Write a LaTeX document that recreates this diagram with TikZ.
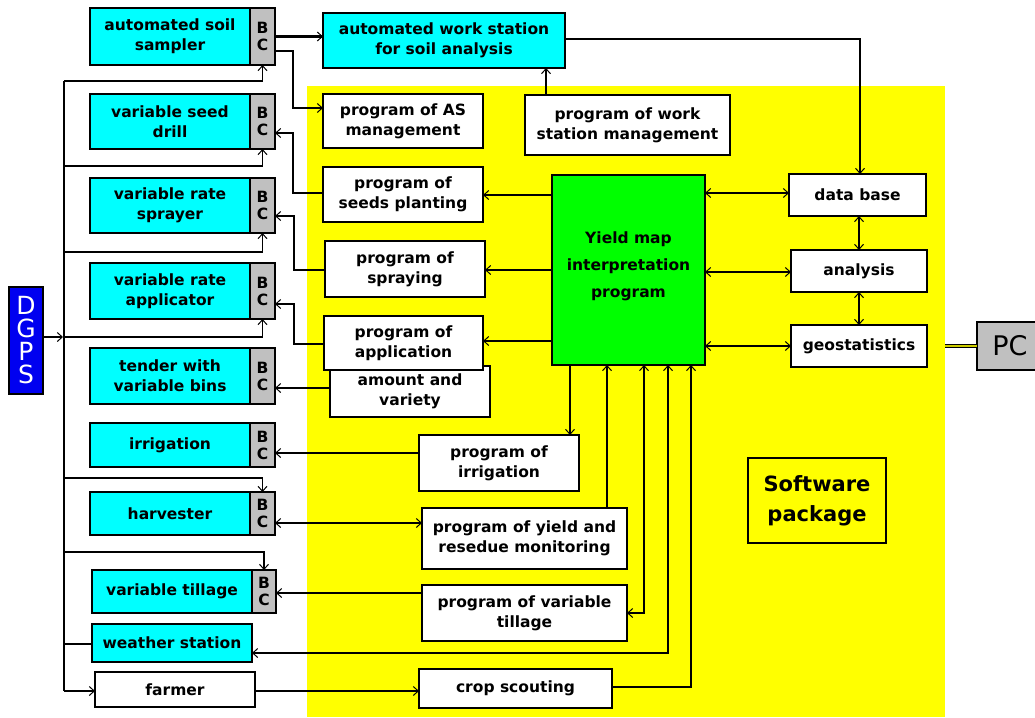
\documentclass[tikz,border=0pt]{standalone}
\usepackage{fontspec}
\setmainfont{DejaVu Sans}
\usetikzlibrary{arrows.meta,calc}
\definecolor{cyn}{RGB}{0,255,255}
\definecolor{ylw}{RGB}{255,255,0}
\definecolor{grn}{RGB}{0,255,0}
\definecolor{gry}{RGB}{192,192,192}
\definecolor{blu}{RGB}{0,0,240}
% \rbx[style]{name}{x1}{y1}{x2}{y2}{text}
\newcommand\rbx[7][]{%
  \pgfmathsetmacro\rbxcx{(#3+#5)/2}%
  \pgfmathsetmacro\rbxcy{(#4+#6)/2}%
  \pgfmathsetmacro\rbxw{#5-#3}%
  \pgfmathsetmacro\rbxh{#6-#4}%
  \node[#1, minimum width=\rbxw pt, minimum height=\rbxh pt] (#2) at (\rbxcx,\rbxcy) {#7};}
\begin{document}
\begin{tikzpicture}[x=1pt,y=-1pt,
  box/.style={draw, line width=2.8pt, inner sep=0pt, outer sep=0pt, align=center,
    font=\bfseries\fontsize{15.5}{20}\selectfont},
  dev/.style={box, fill=cyn},
  prog/.style={box, fill=white},
  bcbox/.style={box, fill=gry, font=\bfseries\fontsize{15.5}{17}\selectfont},
  tipA/.tip={Straight Barb[length=5pt,width=9pt,line width=1pt]},
  con/.style={line width=1.1pt, -tipA},
  dcon/.style={line width=1.1pt, tipA-tipA},
  link/.style={line width=1.1pt}]
\useasboundingbox[fill=white] (0,0) rectangle (1035,717);
\fill[ylw] (307,86) rectangle (945,717);

% devices
\rbx[dev]{sam}{90}{8}{250}{65}{automated soil\\sampler}
\rbx[bcbox]{samBC}{250}{8}{275}{65}{B\\C}
\rbx[dev]{seed}{90}{94}{250}{149}{variable seed\\drill}
\rbx[bcbox]{seedBC}{250}{94}{275}{149}{B\\C}
\rbx[dev]{spr}{90}{178}{250}{233}{variable rate\\sprayer}
\rbx[bcbox]{sprBC}{250}{178}{275}{233}{B\\C}
\rbx[dev]{app}{90}{263}{250}{319}{variable rate\\applicator}
\rbx[bcbox]{appBC}{250}{263}{275}{319}{B\\C}
\rbx[dev]{ten}{90}{348}{250}{404}{tender with\\variable bins}
\rbx[bcbox]{tenBC}{250}{348}{275}{404}{B\\C}
\rbx[dev]{irr}{90}{423}{250}{467}{irrigation}
\rbx[bcbox]{irrBC}{250}{423}{275}{467}{B\\C}
\rbx[dev]{har}{90}{492}{250}{535}{harvester}
\rbx[bcbox]{harBC}{250}{492}{275}{535}{B\\C}
\rbx[dev]{til}{92}{570}{252}{613}{variable tillage}
\rbx[bcbox]{tilBC}{252}{570}{276}{613}{B\\C}
\rbx[dev]{wea}{92}{624}{252}{662}{weather station}
\rbx[prog]{far}{95}{672}{255}{707}{farmer}

\rbx[box, fill=blu, text=white, font=\fontsize{25}{23}\selectfont]{dgps}{9}{287}{43}{394}{D\\G\\P\\S}

% top work station
\rbx[dev]{ws}{323}{13}{565}{68}{automated work station\\for soil analysis}

% programs
\rbx[prog]{as}{323}{94}{483}{148}{program of AS\\management}
\rbx[prog]{wsp}{525}{95}{730}{155}{program of work\\station management}
\rbx[prog]{sp}{323}{167}{483}{222}{program of\\seeds planting}
\rbx[prog]{spp}{325}{241}{485}{297}{program of\\spraying}
\rbx[prog]{amt}{330}{366}{490}{417}{amount and\\variety}
\rbx[prog]{apr}{324}{316}{483}{370}{program of\\application}
\rbx[prog]{irp}{419}{435}{579}{491}{program of\\irrigation}
\rbx[prog]{yrp}{422}{508}{627}{569}{program of yield and\\resedue monitoring}
\rbx[prog]{tlp}{422}{585}{627}{641}{program of variable\\tillage}
\rbx[prog]{crop}{419}{669}{612}{708}{crop scouting}
\rbx[box, fill=grn, font=\bfseries\fontsize{15.5}{27}\selectfont]{ym}{552}{175}{705}{365}{Yield map\\interpretation\\program\\[-17pt]}

\rbx[prog]{db}{789}{174}{926}{216}{data base}
\rbx[prog]{an}{791}{250}{927}{292}{analysis}
\rbx[prog]{geo}{791}{325}{927}{367}{geostatistics}
\rbx[box, fill=ylw, font=\bfseries\fontsize{21}{30}\selectfont]{sw}{748}{458}{886}{543}{Software\\package}
\rbx[box, fill=gry, font=\fontsize{27}{30}\selectfont]{pc}{977}{322}{1043}{370}{PC}

% connectors
\draw[line width=2.4pt, -{Straight Barb[length=5pt,width=9pt,line width=1pt]}]
  (samBC.east) -- (samBC.east -| ws.west);
\draw[con] (samBC.east |- 0,51) -- (293,51) |- (as.west |- 0,108);
\draw[con] (sp.west |- 0,193) -- (293,193) |- (seedBC.east |- 0,133);
\draw[con] (spp.west |- 0,270) -- (294,270) |- (sprBC.east |- 0,216);
\draw[con] (apr.west |- 0,344) -- (294,344) |- (appBC.east |- 0,304);
\draw[con] (amt.west |- 0,388) -- (tenBC.east |- 0,388);
\draw[con] (irp.west |- 0,453) -- (irrBC.east |- 0,453);
\draw[dcon] (yrp.west |- 0,523) -- (harBC.east |- 0,523);
\draw[con] (tlp.west |- 0,593) -- (tilBC.east |- 0,593);

\draw[con] (ym.west |- 0,195) -- (sp.east |- 0,195);
\draw[con] (ym.west |- 0,270) -- (spp.east |- 0,270);
\draw[con] (ym.west |- 0,341) -- (apr.east |- 0,341);

\draw[dcon] (ym.east |- 0,193) -- (db.west |- 0,193);
\draw[dcon] (ym.east |- 0,272) -- (an.west |- 0,272);
\draw[dcon] (ym.east |- 0,346) -- (geo.west |- 0,346);
\draw[dcon] (db.south -| 859,0) -- (an.north -| 859,0);
\draw[dcon] (an.south -| 859,0) -- (geo.north -| 859,0);

\draw[con] (ws.east |- 0,39) -| (db.north -| 860,0);
\draw[con] (wsp.north -| 546,0) -- (ws.south -| 546,0);
\draw[con] (ym.south -| 570,0) -- (irp.north -| 570,0);
\draw[con] (yrp.north -| 607,0) -- (ym.south -| 607,0);
\draw[dcon] (tlp.east |- 0,613) -| (ym.south -| 644,0);
\draw[dcon] (wea.east |- 0,653) -| (ym.south -| 668,0);
\draw[con] (crop.east |- 0,687) -| (ym.south -| 691,0);
\draw[con] (far.east |- 0,691) -- (crop.west |- 0,691);

\draw[line width=1pt, double=ylw!80!black, double distance=2.5pt]
  (945,346) -- (pc.west |- 0,346);

% GPS bus
\coordinate (busT) at (64,81);
\coordinate (busB) at (64,691);
\draw[link] (busT) -- (busB);
\draw[con] (dgps.east |- 0,337) -- (63,337);
\draw[con] (busT) -| (samBC.south);
\draw[con] (64,166) -| (seedBC.south);
\draw[con] (64,252) -| (sprBC.south);
\draw[con] (64,337) -| (appBC.south);
\draw[con] (64,478) -| (harBC.north);
\draw[con] (64,552) -| (tilBC.north);
\draw[link] (64,644) -- (wea.west |- 0,644);
\draw[con] (busB) -- (far.west |- busB);
\end{tikzpicture}
\end{document}
